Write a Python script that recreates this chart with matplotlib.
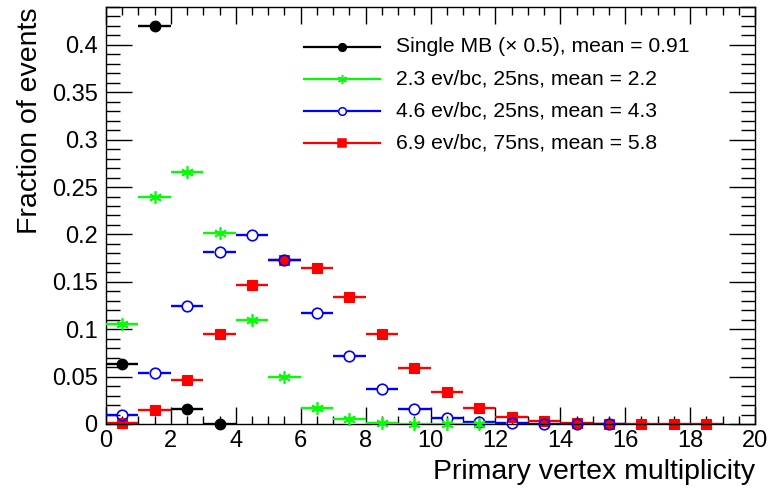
import numpy as np
import matplotlib
matplotlib.use("Agg")
import matplotlib.pyplot as plt
from matplotlib.lines import Line2D
from matplotlib.ticker import MultipleLocator, FuncFormatter

plt.rcParams['font.family'] = ['Liberation Sans', 'DejaVu Sans']

# bin centres (bin width 1)
bins = np.arange(0.5, 20.0, 1.0)

black_vals = [0.063, 0.420, 0.016, 0.0003]
green_vals = [0.1056, 0.240, 0.266, 0.2014, 0.110, 0.0498, 0.0165, 0.0053,
              0.0013, 0.0004, 0.0002, 0.0001]
blue_vals = [0.0095, 0.0533, 0.125, 0.182, 0.1996, 0.1733, 0.1175, 0.0719,
             0.0372, 0.0154, 0.0062, 0.0025, 0.0007, 0.0003, 0.0002, 0.0001]
red_vals = [0.0015, 0.0147, 0.0467, 0.095, 0.147, 0.173, 0.1646, 0.1344,
            0.0947, 0.059, 0.0333, 0.0168, 0.0077, 0.0032, 0.0009, 0.0005,
            0.0002, 0.0002, 0.0002]

labels = ["Single MB (\u00d7 0.5), mean = 0.91",
          "2.3 ev/bc, 25ns, mean = 2.2",
          "4.6 ev/bc, 25ns, mean = 4.3",
          "6.9 ev/bc, 75ns, mean = 5.8"]

fig = plt.figure(figsize=(7.74, 4.92), dpi=100)
ax = fig.add_axes([106/774, 68/492, 649/774, 417/492])

lw = 1.7

def draw(vals, color, marker, ms, mfc, mew=1.2, gap=0.0, z=2):
    x = bins[:len(vals)]
    y = np.array(vals)
    if gap > 0:
        ax.hlines(y, x - 0.5, x - gap, color=color, lw=lw, zorder=z)
        ax.hlines(y, x + gap, x + 0.5, color=color, lw=lw, zorder=z)
    else:
        ax.hlines(y, x - 0.5, x + 0.5, color=color, lw=lw, zorder=z)
    ax.plot(x, y, ls='none', marker=marker, ms=ms, mfc=mfc, mec=color,
            mew=mew, color=color, zorder=z + 0.1, clip_on=False)

draw(red_vals, '#ff0000', 's', 7.5, '#ff0000', mew=0.8, z=2)
draw(blue_vals, '#0000ff', 'o', 7.6, 'none', mew=1.2, gap=0.16, z=3)
draw(green_vals, '#00ff00', (6, 2, 0), 9, '#00ff00', mew=1.2, z=4)
draw(black_vals, '#000000', 'o', 7.3, '#000000', z=5)

ax.set_xlim(0, 20)
ax.set_ylim(0, 0.44)
ax.xaxis.set_major_locator(MultipleLocator(2))
ax.xaxis.set_minor_locator(MultipleLocator(0.5))
ax.yaxis.set_major_locator(MultipleLocator(0.05))
ax.yaxis.set_minor_locator(MultipleLocator(0.01))

def fmt(v, pos):
    return ('%.2f' % v).rstrip('0').rstrip('.')
ax.yaxis.set_major_formatter(FuncFormatter(fmt))

ax.tick_params(axis='both', which='both', direction='in', top=True, right=True,
               labelsize=17, width=1.0, color='black')
ax.tick_params(axis='x', which='major', length=12, pad=4.5)
ax.tick_params(axis='x', which='minor', length=6)
ax.tick_params(axis='y', which='major', length=19, pad=6)
ax.tick_params(axis='y', which='minor', length=10)
for sp in ax.spines.values():
    sp.set_linewidth(1.0)

ax.set_xlabel("Primary vertex multiplicity", fontsize=20.5, loc='right', labelpad=5)
ax.set_ylabel("Fraction of events", fontsize=20.5, loc='top', labelpad=6)

# legend drawn in axes coordinates (ROOT TLegend style)
colors = ['#000000', '#00ff00', '#0000ff', '#ff0000']
markers = ['o', (6, 2, 0), 'o', 's']
mfcs = ['#000000', '#00ff00', 'white', '#ff0000']
msizes = [5.5, 6.5, 5.5, 5.5]
x0 = (304 - 106) / 649
x1 = (380 - 106) / 649
xm = (x0 + x1) / 2
xt = (396 - 106) / 649
for i, lab in enumerate(labels):
    yy = (424 - (47 + 32 * i)) / 417
    ax.add_line(Line2D([x0, x1], [yy, yy], transform=ax.transAxes,
                       color=colors[i], lw=1.6))
    ax.add_line(Line2D([xm], [yy], transform=ax.transAxes, ls='none',
                       marker=markers[i], ms=msizes[i], mfc=mfcs[i],
                       mec=colors[i], mew=1.1))
    ax.text(xt, yy, lab, transform=ax.transAxes, fontsize=15.2,
            va='center', ha='left')

fig.savefig("out.png", dpi=100)
